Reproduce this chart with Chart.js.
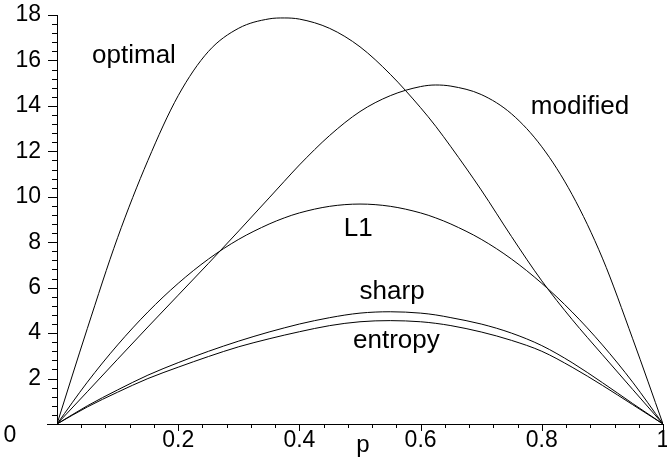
<!DOCTYPE html>
<html>
<head>
<meta charset="utf-8">
<title>p curves</title>
<script src="https://cdn.jsdelivr.net/npm/chart.js@4.4.1/dist/chart.umd.min.js"></script>
<style>
  html, body { margin: 0; padding: 0; background: #fff; }
  #wrap { width: 667px; height: 466px; }
</style>
</head>
<body>
<div id="wrap"><canvas id="pChart" width="667" height="466"></canvas></div>
<script>
//========================
// Data
//========================
const pValues = [0, 0.05, 0.1, 0.15, 0.2, 0.25, 0.3, 0.35, 0.375, 0.4, 0.45, 0.5,
                 0.55, 0.6, 0.625, 0.65, 0.7, 0.75, 0.8, 0.85, 0.9, 0.95, 1];

const optimal  = [0, 4.2, 8.2, 11.6, 14.45, 16.4, 17.42, 17.83, 17.87, 17.82, 17.41, 16.6,
                  15.39, 13.92, 13.1, 12.2, 10.3, 8.25, 6.3, 4.6, 3.05, 1.52, 0];
const modified = [0, 1.42, 2.85, 4.27, 5.67, 7.07, 8.5, 9.95, 10.68, 11.4, 12.7, 13.75,
                  14.45, 14.85, 14.92, 14.87, 14.5, 13.65, 12.2, 10.1, 7.3, 3.75, 0];
const l1       = [0, 1.84, 3.48, 4.93, 6.19, 7.26, 8.13, 8.8, 9.07, 9.29, 9.58, 9.68,
                  9.58, 9.29, 9.07, 8.8, 8.13, 7.26, 6.19, 4.93, 3.48, 1.84, 0];
const sharp    = [0, 0.8, 1.5, 2.15, 2.7, 3.2, 3.65, 4.05, 4.23, 4.4, 4.68, 4.88,
                  4.94, 4.88, 4.8, 4.68, 4.4, 4.0, 3.45, 2.7, 1.82, 0.9, 0];
const entropy  = [0, 0.75, 1.4, 2.0, 2.5, 2.97, 3.4, 3.75, 3.91, 4.06, 4.33, 4.5,
                  4.55, 4.5, 4.43, 4.33, 4.05, 3.68, 3.2, 2.5, 1.7, 0.85, 0];

const xTickLabels = ["0.2", "0.4", "0.6", "0.8", "1"];
const yTickLabels = ["2", "4", "6", "8", "10", "12", "14", "16", "18"];

// curve names, placed in data coordinates
const curveNames = ["optimal", "modified", "L1", "sharp", "entropy"];
const nameAt = [[0.127, 16.2], [0.863, 13.95], [0.497, 8.6], [0.553, 5.8], [0.56, 3.65]];

const FONT = '"Liberation Sans", Arial, sans-serif';

function toPoints(values) {
  return pValues.map((p, i) => ({ x: p, y: values[i] }));
}

function makeSet(label, values) {
  return {
    label: label,
    data: toPoints(values),
    borderColor: '#000',
    borderWidth: 1,
    pointRadius: 0,
    fill: false,
    cubicInterpolationMode: 'monotone'
  };
}

//========================
// Maple style axes + text
//========================
const mapleAxes = {
  id: 'mapleAxes',
  afterDatasetsDraw(chart) {
    const ctx = chart.ctx;
    const xs = chart.scales.x;
    const ys = chart.scales.y;
    const x0 = xs.getPixelForValue(0);
    const y0 = ys.getPixelForValue(0);

    ctx.save();
    ctx.strokeStyle = '#000';
    ctx.lineWidth = 1;

    // axis lines
    ctx.beginPath();
    ctx.moveTo(x0 - 10, y0 + 0.5);
    ctx.lineTo(xs.getPixelForValue(1), y0 + 0.5);
    ctx.moveTo(x0 + 0.5, y0);
    ctx.lineTo(x0 + 0.5, ys.getPixelForValue(18));
    ctx.stroke();

    // x ticks, minor every 0.04
    ctx.beginPath();
    for (let k = 1; k <= 25; k++) {
      const px = Math.round(xs.getPixelForValue(k * 0.04)) + 0.5;
      const len = (k % 5 === 0) ? 7 : 4;
      ctx.moveTo(px, y0);
      ctx.lineTo(px, y0 + len);
    }
    // y ticks, minor every 0.4
    for (let k = 1; k <= 45; k++) {
      const py = Math.round(ys.getPixelForValue(k * 0.4)) + 0.5;
      const len = (k % 5 === 0) ? 9 : 5;
      ctx.moveTo(x0, py);
      ctx.lineTo(x0 - len, py);
    }
    ctx.stroke();

    // tick labels
    ctx.fillStyle = '#000';
    ctx.font = '23px ' + FONT;
    ctx.textAlign = 'center';
    ctx.textBaseline = 'middle';
    xTickLabels.forEach((t, i) => {
      ctx.fillText(t, xs.getPixelForValue((i + 1) * 0.2), y0 + 17);
    });
    ctx.textAlign = 'right';
    yTickLabels.forEach((t, i) => {
      ctx.fillText(t, x0 - 16, ys.getPixelForValue((i + 1) * 2));
    });
    ctx.textAlign = 'center';
    ctx.fillText("0", x0 - 47, y0 + 12);

    // axis name
    ctx.font = '24px ' + FONT;
    ctx.fillText("p", xs.getPixelForValue(0.505), y0 + 21);

    // curve names
    ctx.font = '26px ' + FONT;
    curveNames.forEach((name, i) => {
      ctx.fillText(name, xs.getPixelForValue(nameAt[i][0]), ys.getPixelForValue(nameAt[i][1]));
    });
    ctx.restore();
  }
};

document.addEventListener('DOMContentLoaded', function () {
  const ctx = document.getElementById('pChart').getContext('2d');

  new Chart(ctx, {
    type: 'line',
    data: {
      datasets: [
        makeSet('optimal', optimal),
        makeSet('modified', modified),
        makeSet('L1', l1),
        makeSet('sharp', sharp),
        makeSet('entropy', entropy)
      ]
    },
    options: {
      responsive: false,
      animation: false,
      layout: { padding: { left: 57, right: 4, top: 15, bottom: 42 } },
      plugins: { legend: { display: false }, tooltip: { enabled: false } },
      scales: {
        x: { type: 'linear', min: 0, max: 1, display: false },
        y: { type: 'linear', min: 0, max: 18, display: false }
      }
    },
    plugins: [mapleAxes]
  });
});
</script>
</body>
</html>
